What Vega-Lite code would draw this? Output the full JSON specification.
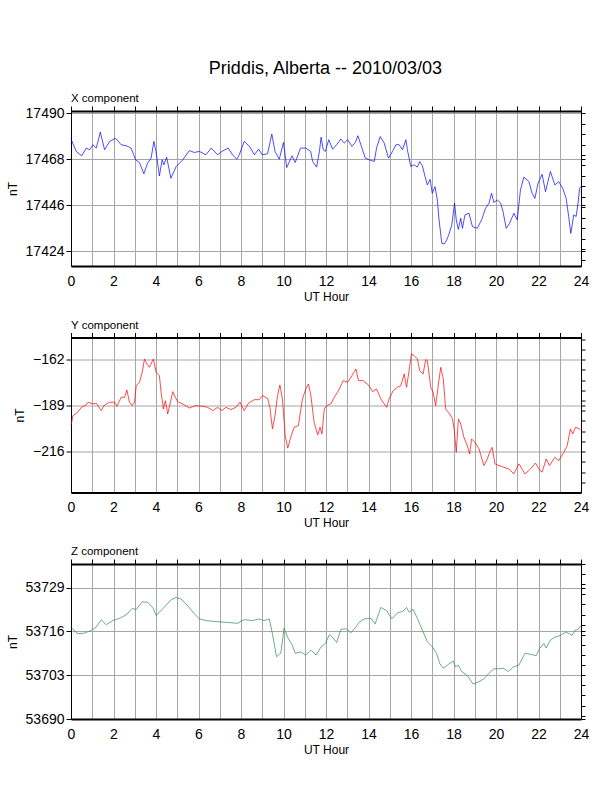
{
  "$schema": "https://vega.github.io/schema/vega-lite/v6.json",
  "autosize": {"type": "none"},
  "padding": {"left": 71, "top": 111, "right": 541, "bottom": 681},
  "title": {"text": "Priddis, Alberta -- 2010/03/03", "fontSize": 18, "fontWeight": "normal", "anchor": "middle", "baseline": "alphabetic", "offset": 0.5, "dx": 28, "color": "black"},
  "spacing": 71.5,
  "bounds": "flush",
  "datasets": {
    "xc": [
      {"h": 0, "v": 17477.6}, {"h": 0.25, "v": 17471.7}, {"h": 0.5, "v": 17469.6}, {"h": 0.72, "v": 17473.3}, {"h": 0.88, "v": 17472.5},
      {"h": 1.03, "v": 17474.9}, {"h": 1.19, "v": 17473.3}, {"h": 1.38, "v": 17480.9}, {"h": 1.58, "v": 17472.5}, {"h": 1.82, "v": 17476.5},
      {"h": 2.1, "v": 17478.0}, {"h": 2.36, "v": 17474.9}, {"h": 2.6, "v": 17474.4}, {"h": 2.83, "v": 17473.3}, {"h": 3.04, "v": 17467.7},
      {"h": 3.22, "v": 17466.4}, {"h": 3.43, "v": 17461.0}, {"h": 3.6, "v": 17466.1}, {"h": 3.77, "v": 17468.5}, {"h": 3.9, "v": 17476.5},
      {"h": 4.0, "v": 17471.7}, {"h": 4.16, "v": 17460.0}, {"h": 4.29, "v": 17467.7}, {"h": 4.37, "v": 17465.3}, {"h": 4.5, "v": 17469.0},
      {"h": 4.7, "v": 17458.9}, {"h": 4.95, "v": 17464.5}, {"h": 5.26, "v": 17467.7}, {"h": 5.57, "v": 17472.1}, {"h": 5.8, "v": 17471.2},
      {"h": 6.04, "v": 17471.7}, {"h": 6.35, "v": 17470.1}, {"h": 6.6, "v": 17473.3}, {"h": 6.9, "v": 17470.1}, {"h": 7.1, "v": 17471.7},
      {"h": 7.4, "v": 17473.3}, {"h": 7.6, "v": 17470.1}, {"h": 7.8, "v": 17468.0}, {"h": 7.92, "v": 17470.1}, {"h": 8.15, "v": 17476.5},
      {"h": 8.4, "v": 17474.1}, {"h": 8.63, "v": 17470.1}, {"h": 8.83, "v": 17472.8}, {"h": 9.0, "v": 17470.1}, {"h": 9.25, "v": 17470.6},
      {"h": 9.45, "v": 17480.0}, {"h": 9.6, "v": 17471.7}, {"h": 9.8, "v": 17468.0}, {"h": 10.0, "v": 17476.0}, {"h": 10.15, "v": 17464.0},
      {"h": 10.4, "v": 17469.6}, {"h": 10.55, "v": 17466.4}, {"h": 10.8, "v": 17473.3}, {"h": 11.05, "v": 17473.3}, {"h": 11.28, "v": 17471.7},
      {"h": 11.37, "v": 17466.9}, {"h": 11.56, "v": 17464.2}, {"h": 11.69, "v": 17471.7}, {"h": 11.77, "v": 17478.5}, {"h": 11.87, "v": 17472.5},
      {"h": 11.97, "v": 17471.7}, {"h": 12.13, "v": 17477.3}, {"h": 12.31, "v": 17472.8}, {"h": 12.5, "v": 17474.9}, {"h": 12.7, "v": 17477.6},
      {"h": 12.86, "v": 17475.7}, {"h": 13.02, "v": 17477.3}, {"h": 13.22, "v": 17474.1}, {"h": 13.38, "v": 17476.0}, {"h": 13.5, "v": 17479.2},
      {"h": 13.64, "v": 17474.9}, {"h": 13.85, "v": 17468.5}, {"h": 14.03, "v": 17467.7}, {"h": 14.27, "v": 17466.9}, {"h": 14.38, "v": 17473.3},
      {"h": 14.55, "v": 17478.8}, {"h": 14.74, "v": 17475.7}, {"h": 14.94, "v": 17468.5}, {"h": 15.13, "v": 17471.7}, {"h": 15.29, "v": 17474.9},
      {"h": 15.44, "v": 17474.9}, {"h": 15.6, "v": 17472.5}, {"h": 15.76, "v": 17477.3}, {"h": 15.83, "v": 17472.5}, {"h": 15.99, "v": 17464.5},
      {"h": 16.15, "v": 17465.3}, {"h": 16.3, "v": 17464.2}, {"h": 16.41, "v": 17466.9}, {"h": 16.54, "v": 17464.8}, {"h": 16.66, "v": 17459.7},
      {"h": 16.77, "v": 17455.7}, {"h": 16.9, "v": 17458.4}, {"h": 17.0, "v": 17451.7}, {"h": 17.13, "v": 17454.9}, {"h": 17.24, "v": 17448.5},
      {"h": 17.32, "v": 17439.0}, {"h": 17.45, "v": 17427.8}, {"h": 17.56, "v": 17427.5}, {"h": 17.68, "v": 17429.4}, {"h": 17.79, "v": 17432.3},
      {"h": 17.92, "v": 17436.6}, {"h": 18.05, "v": 17447.0}, {"h": 18.13, "v": 17439.0}, {"h": 18.23, "v": 17434.5}, {"h": 18.34, "v": 17439.8},
      {"h": 18.42, "v": 17435.0}, {"h": 18.54, "v": 17441.4}, {"h": 18.73, "v": 17442.2}, {"h": 18.89, "v": 17435.8}, {"h": 19.12, "v": 17435.0},
      {"h": 19.32, "v": 17439.0}, {"h": 19.51, "v": 17444.6}, {"h": 19.67, "v": 17447.0}, {"h": 19.79, "v": 17451.7}, {"h": 19.9, "v": 17447.3},
      {"h": 20.06, "v": 17448.5}, {"h": 20.22, "v": 17447.0}, {"h": 20.33, "v": 17443.0}, {"h": 20.48, "v": 17435.0}, {"h": 20.64, "v": 17437.4},
      {"h": 20.84, "v": 17442.2}, {"h": 21.0, "v": 17439.0}, {"h": 21.15, "v": 17453.3}, {"h": 21.31, "v": 17459.4}, {"h": 21.55, "v": 17457.3},
      {"h": 21.7, "v": 17451.7}, {"h": 21.83, "v": 17449.3}, {"h": 21.98, "v": 17456.5}, {"h": 22.17, "v": 17460.8}, {"h": 22.33, "v": 17452.5},
      {"h": 22.56, "v": 17462.1}, {"h": 22.77, "v": 17455.7}, {"h": 22.95, "v": 17457.3}, {"h": 23.14, "v": 17454.1}, {"h": 23.3, "v": 17449.3},
      {"h": 23.42, "v": 17440.6}, {"h": 23.52, "v": 17432.6}, {"h": 23.66, "v": 17441.4}, {"h": 23.77, "v": 17440.6}, {"h": 23.86, "v": 17447.0},
      {"h": 23.94, "v": 17454.1}, {"h": 24.0, "v": 17455.0}
    ],
    "yc": [
      {"h": 0, "v": -200.7}, {"h": 0.09, "v": -194.9}, {"h": 0.28, "v": -193.3}, {"h": 0.49, "v": -190.0}, {"h": 0.72, "v": -188.6},
      {"h": 0.8, "v": -187.0}, {"h": 1.03, "v": -188.0}, {"h": 1.19, "v": -187.6}, {"h": 1.42, "v": -191.9}, {"h": 1.58, "v": -188.6},
      {"h": 1.82, "v": -187.0}, {"h": 2.05, "v": -187.0}, {"h": 2.16, "v": -189.4}, {"h": 2.36, "v": -184.1}, {"h": 2.52, "v": -184.1},
      {"h": 2.63, "v": -179.8}, {"h": 2.75, "v": -187.0}, {"h": 2.88, "v": -189.0}, {"h": 2.99, "v": -187.0}, {"h": 3.07, "v": -177.3},
      {"h": 3.22, "v": -175.3}, {"h": 3.35, "v": -169.4}, {"h": 3.46, "v": -161.6}, {"h": 3.57, "v": -164.5}, {"h": 3.69, "v": -166.5},
      {"h": 3.88, "v": -161.6}, {"h": 4.0, "v": -169.4}, {"h": 4.16, "v": -171.4}, {"h": 4.24, "v": -181.2}, {"h": 4.35, "v": -191.0},
      {"h": 4.44, "v": -186.1}, {"h": 4.55, "v": -193.9}, {"h": 4.66, "v": -188.0}, {"h": 4.79, "v": -180.8}, {"h": 4.91, "v": -184.1},
      {"h": 5.02, "v": -186.7}, {"h": 5.26, "v": -188.0}, {"h": 5.57, "v": -190.4}, {"h": 5.88, "v": -189.0}, {"h": 6.2, "v": -189.4},
      {"h": 6.43, "v": -190.0}, {"h": 6.67, "v": -191.9}, {"h": 6.9, "v": -190.0}, {"h": 7.1, "v": -191.9}, {"h": 7.29, "v": -190.0},
      {"h": 7.53, "v": -191.3}, {"h": 7.76, "v": -190.0}, {"h": 7.95, "v": -187.0}, {"h": 8.15, "v": -191.9}, {"h": 8.36, "v": -187.4},
      {"h": 8.63, "v": -185.5}, {"h": 8.86, "v": -185.5}, {"h": 9.01, "v": -183.1}, {"h": 9.25, "v": -184.7}, {"h": 9.36, "v": -190.0},
      {"h": 9.48, "v": -202.7}, {"h": 9.6, "v": -194.9}, {"h": 9.72, "v": -183.1}, {"h": 9.83, "v": -176.9}, {"h": 9.95, "v": -185.1},
      {"h": 10.08, "v": -206.6}, {"h": 10.2, "v": -214.0}, {"h": 10.34, "v": -207.6}, {"h": 10.5, "v": -201.7}, {"h": 10.7, "v": -200.7},
      {"h": 10.89, "v": -185.1}, {"h": 11.05, "v": -179.2}, {"h": 11.17, "v": -176.3}, {"h": 11.28, "v": -182.2}, {"h": 11.44, "v": -198.8},
      {"h": 11.61, "v": -206.2}, {"h": 11.72, "v": -201.7}, {"h": 11.81, "v": -205.6}, {"h": 11.92, "v": -191.0}, {"h": 12.03, "v": -189.0},
      {"h": 12.23, "v": -188.0}, {"h": 12.39, "v": -184.1}, {"h": 12.63, "v": -179.2}, {"h": 12.81, "v": -174.3}, {"h": 13.02, "v": -175.3},
      {"h": 13.22, "v": -171.4}, {"h": 13.41, "v": -167.5}, {"h": 13.53, "v": -174.3}, {"h": 13.75, "v": -174.3}, {"h": 14.03, "v": -177.3},
      {"h": 14.19, "v": -180.8}, {"h": 14.38, "v": -179.2}, {"h": 14.58, "v": -185.1}, {"h": 14.74, "v": -188.0}, {"h": 14.85, "v": -190.0},
      {"h": 14.97, "v": -185.1}, {"h": 15.16, "v": -180.2}, {"h": 15.36, "v": -178.2}, {"h": 15.52, "v": -177.3}, {"h": 15.68, "v": -170.4},
      {"h": 15.79, "v": -178.2}, {"h": 15.91, "v": -168.5}, {"h": 16.02, "v": -158.7}, {"h": 16.15, "v": -159.6}, {"h": 16.3, "v": -161.6},
      {"h": 16.41, "v": -168.5}, {"h": 16.57, "v": -170.4}, {"h": 16.69, "v": -162.0}, {"h": 16.77, "v": -162.6}, {"h": 16.93, "v": -178.2},
      {"h": 17.04, "v": -181.2}, {"h": 17.16, "v": -189.0}, {"h": 17.29, "v": -176.3}, {"h": 17.4, "v": -166.5}, {"h": 17.52, "v": -173.3},
      {"h": 17.63, "v": -191.0}, {"h": 17.82, "v": -193.9}, {"h": 17.95, "v": -196.8}, {"h": 18.03, "v": -202.7}, {"h": 18.13, "v": -216.4},
      {"h": 18.23, "v": -196.8}, {"h": 18.34, "v": -199.8}, {"h": 18.49, "v": -207.6}, {"h": 18.65, "v": -212.5}, {"h": 18.76, "v": -217.4},
      {"h": 18.85, "v": -208.6}, {"h": 19.01, "v": -210.5}, {"h": 19.2, "v": -214.4}, {"h": 19.43, "v": -224.2}, {"h": 19.59, "v": -220.3},
      {"h": 19.7, "v": -216.4}, {"h": 19.82, "v": -213.5}, {"h": 19.95, "v": -223.2}, {"h": 20.14, "v": -224.2}, {"h": 20.37, "v": -225.2},
      {"h": 20.61, "v": -226.2}, {"h": 20.84, "v": -229.1}, {"h": 21.08, "v": -223.2}, {"h": 21.36, "v": -229.1}, {"h": 21.62, "v": -226.2},
      {"h": 21.86, "v": -222.7}, {"h": 22.02, "v": -226.2}, {"h": 22.17, "v": -228.1}, {"h": 22.36, "v": -220.3}, {"h": 22.52, "v": -224.2},
      {"h": 22.77, "v": -219.3}, {"h": 22.95, "v": -221.3}, {"h": 23.19, "v": -216.4}, {"h": 23.35, "v": -212.5}, {"h": 23.5, "v": -202.7},
      {"h": 23.61, "v": -205.6}, {"h": 23.74, "v": -201.7}, {"h": 23.86, "v": -202.3}, {"h": 23.97, "v": -203.1}
    ],
    "zc": [
      {"h": 0.03, "v": 53717.0}, {"h": 0.33, "v": 53715.3}, {"h": 0.64, "v": 53715.5}, {"h": 0.95, "v": 53716.3}, {"h": 1.19, "v": 53717.3},
      {"h": 1.42, "v": 53719.4}, {"h": 1.66, "v": 53718.0}, {"h": 1.97, "v": 53719.2}, {"h": 2.28, "v": 53719.9}, {"h": 2.6, "v": 53720.9},
      {"h": 2.88, "v": 53722.8}, {"h": 3.07, "v": 53722.5}, {"h": 3.35, "v": 53724.8}, {"h": 3.61, "v": 53724.6}, {"h": 3.85, "v": 53723.1},
      {"h": 4.01, "v": 53720.7}, {"h": 4.24, "v": 53722.2}, {"h": 4.48, "v": 53723.8}, {"h": 4.71, "v": 53725.4}, {"h": 4.95, "v": 53726.1},
      {"h": 5.18, "v": 53725.6}, {"h": 5.49, "v": 53723.6}, {"h": 5.81, "v": 53721.2}, {"h": 6.04, "v": 53719.7}, {"h": 6.35, "v": 53719.2},
      {"h": 6.82, "v": 53718.9}, {"h": 7.29, "v": 53718.7}, {"h": 7.84, "v": 53718.4}, {"h": 8.15, "v": 53719.5}, {"h": 8.54, "v": 53719.2},
      {"h": 8.86, "v": 53719.7}, {"h": 9.09, "v": 53719.2}, {"h": 9.33, "v": 53719.7}, {"h": 9.48, "v": 53715.3}, {"h": 9.67, "v": 53708.5},
      {"h": 9.87, "v": 53709.5}, {"h": 10.03, "v": 53717.0}, {"h": 10.19, "v": 53714.3}, {"h": 10.4, "v": 53712.1}, {"h": 10.55, "v": 53709.5},
      {"h": 10.81, "v": 53709.9}, {"h": 11.05, "v": 53709.0}, {"h": 11.3, "v": 53710.4}, {"h": 11.53, "v": 53709.0}, {"h": 11.77, "v": 53711.4},
      {"h": 11.97, "v": 53712.4}, {"h": 12.16, "v": 53715.0}, {"h": 12.31, "v": 53714.3}, {"h": 12.5, "v": 53712.7}, {"h": 12.7, "v": 53716.6},
      {"h": 12.94, "v": 53716.8}, {"h": 13.17, "v": 53715.6}, {"h": 13.41, "v": 53717.3}, {"h": 13.56, "v": 53718.7}, {"h": 13.8, "v": 53719.7},
      {"h": 14.11, "v": 53719.9}, {"h": 14.31, "v": 53718.2}, {"h": 14.58, "v": 53723.1}, {"h": 14.85, "v": 53722.2}, {"h": 15.1, "v": 53719.7},
      {"h": 15.36, "v": 53721.5}, {"h": 15.6, "v": 53721.9}, {"h": 15.79, "v": 53723.1}, {"h": 15.91, "v": 53721.7}, {"h": 16.1, "v": 53722.5},
      {"h": 16.3, "v": 53719.9}, {"h": 16.54, "v": 53716.3}, {"h": 16.77, "v": 53712.9}, {"h": 17.0, "v": 53711.4}, {"h": 17.2, "v": 53709.5},
      {"h": 17.35, "v": 53706.5}, {"h": 17.51, "v": 53705.1}, {"h": 17.76, "v": 53706.2}, {"h": 17.98, "v": 53707.2}, {"h": 18.1, "v": 53705.5},
      {"h": 18.23, "v": 53706.0}, {"h": 18.38, "v": 53704.1}, {"h": 18.65, "v": 53702.9}, {"h": 18.92, "v": 53700.4}, {"h": 19.2, "v": 53701.1},
      {"h": 19.43, "v": 53701.9}, {"h": 19.67, "v": 53703.6}, {"h": 19.9, "v": 53704.9}, {"h": 20.14, "v": 53704.9}, {"h": 20.33, "v": 53705.1},
      {"h": 20.58, "v": 53704.1}, {"h": 20.84, "v": 53705.5}, {"h": 21.08, "v": 53706.0}, {"h": 21.36, "v": 53709.5}, {"h": 21.62, "v": 53709.2},
      {"h": 21.89, "v": 53708.8}, {"h": 22.05, "v": 53710.9}, {"h": 22.25, "v": 53712.4}, {"h": 22.36, "v": 53711.1}, {"h": 22.56, "v": 53713.4},
      {"h": 22.77, "v": 53714.3}, {"h": 23.03, "v": 53714.8}, {"h": 23.27, "v": 53715.8}, {"h": 23.46, "v": 53715.3}, {"h": 23.58, "v": 53714.8},
      {"h": 23.71, "v": 53716.3}, {"h": 23.86, "v": 53716.6}, {"h": 23.97, "v": 53717.6}
    ]
  },
  "vconcat": [
    {
      "width": 510,
      "height": 155,
      "title": {"text": "X component", "anchor": "start", "frame": "group", "fontSize": 11.5, "fontWeight": "normal", "baseline": "alphabetic", "offset": -8, "color": "black"},
      "data": {"name": "xc"},
      "layer": [
        {
          "mark": {"type": "line", "strokeOpacity": 0},
          "encoding": {
            "x": {"field": "h", "type": "quantitative", "scale": {"domain": [0, 24], "nice": false},
              "axis": {"orient": "top", "values": [0,1,2,3,4,5,6,7,8,9,10,11,12,13,14,15,16,17,18,19,20,21,22,23,24], "labels": false, "title": null, "grid": true, "gridColor": "#a6a6a6", "gridWidth": 1, "tickSize": 5, "domainWidth": 2}},
            "y": {"field": "v", "type": "quantitative", "scale": {"domain": [17417, 17491], "nice": false, "zero": false},
              "axis": {"orient": "right", "values": [17420,17424,17425,17430,17435,17440,17445,17446,17450,17455,17460,17465,17468,17470,17475,17480,17485,17490], "labels": false, "title": null, "grid": false, "tickSize": 4}}
          }
        },
        {
          "mark": {"type": "line", "color": "#0000ff", "strokeWidth": 0.7},
          "encoding": {
            "x": {"field": "h", "type": "quantitative",
              "axis": {"orient": "bottom", "values": [0,2,4,6,8,10,12,14,16,18,20,22,24], "ticks": false, "tickSize": 0, "labelPadding": 8, "grid": false, "title": "UT Hour", "titlePadding": 3, "domainWidth": 2}},
            "y": {"field": "v", "type": "quantitative",
              "axis": {"orient": "left", "values": [17424,17446,17468,17490], "format": "d", "grid": true, "gridColor": "#a6a6a6", "gridWidth": 1,
                "tickSize": 5, "labelPadding": 2, "title": "nT", "titlePadding": 6}}
          }
        }
      ],
      "resolve": {"axis": {"x": "independent", "y": "independent"}}
    },
    {
      "width": 510,
      "height": 155,
      "title": {"text": "Y component", "anchor": "start", "frame": "group", "fontSize": 11.5, "fontWeight": "normal", "baseline": "alphabetic", "offset": -8, "color": "black"},
      "data": {"name": "yc"},
      "layer": [
        {
          "mark": {"type": "line", "strokeOpacity": 0},
          "encoding": {
            "x": {"field": "h", "type": "quantitative", "scale": {"domain": [0, 24], "nice": false},
              "axis": {"orient": "top", "values": [0,1,2,3,4,5,6,7,8,9,10,11,12,13,14,15,16,17,18,19,20,21,22,23,24], "labels": false, "title": null, "grid": true, "gridColor": "#a6a6a6", "gridWidth": 1, "tickSize": 5, "domainWidth": 2}},
            "y": {"field": "v", "type": "quantitative", "scale": {"domain": [-240, -149], "nice": false, "zero": false},
              "axis": {"orient": "right", "values": [-234,-228,-222,-216,-210,-204,-198,-192,-189,-186,-180,-174,-168,-162,-156,-150], "labels": false, "title": null, "grid": false, "tickSize": 4}}
          }
        },
        {
          "mark": {"type": "line", "color": "#ff0000", "strokeWidth": 0.7},
          "encoding": {
            "x": {"field": "h", "type": "quantitative",
              "axis": {"orient": "bottom", "values": [0,2,4,6,8,10,12,14,16,18,20,22,24], "ticks": false, "tickSize": 0, "labelPadding": 8, "grid": false, "title": "UT Hour", "titlePadding": 3, "domainWidth": 2}},
            "y": {"field": "v", "type": "quantitative",
              "axis": {"orient": "left", "values": [-216,-189,-162], "format": "d", "grid": true, "gridColor": "#a6a6a6", "gridWidth": 1,
                "tickSize": 5, "labelPadding": 2, "title": "nT", "titlePadding": 6}}
          }
        }
      ],
      "resolve": {"axis": {"x": "independent", "y": "independent"}}
    },
    {
      "width": 510,
      "height": 155,
      "title": {"text": "Z component", "anchor": "start", "frame": "group", "fontSize": 11.5, "fontWeight": "normal", "baseline": "alphabetic", "offset": -8, "color": "black"},
      "data": {"name": "zc"},
      "layer": [
        {
          "mark": {"type": "line", "strokeOpacity": 0},
          "encoding": {
            "x": {"field": "h", "type": "quantitative", "scale": {"domain": [0, 24], "nice": false},
              "axis": {"orient": "top", "values": [0,1,2,3,4,5,6,7,8,9,10,11,12,13,14,15,16,17,18,19,20,21,22,23,24], "labels": false, "title": null, "grid": true, "gridColor": "#a6a6a6", "gridWidth": 1, "tickSize": 5, "domainWidth": 2}},
            "y": {"field": "v", "type": "quantitative", "scale": {"domain": [53690, 53736], "nice": false, "zero": false},
              "axis": {"orient": "right", "values": [53690,53691,53694,53697,53700,53703,53706,53709,53712,53715,53716,53718,53721,53724,53727,53729,53730,53733,53736], "labels": false, "title": null, "grid": false, "tickSize": 4}}
          }
        },
        {
          "mark": {"type": "line", "color": "#2e8b57", "strokeWidth": 0.7},
          "encoding": {
            "x": {"field": "h", "type": "quantitative",
              "axis": {"orient": "bottom", "values": [0,2,4,6,8,10,12,14,16,18,20,22,24], "ticks": false, "tickSize": 0, "labelPadding": 8, "grid": false, "title": "UT Hour", "titlePadding": 3, "domainWidth": 2}},
            "y": {"field": "v", "type": "quantitative",
              "axis": {"orient": "left", "values": [53690,53703,53716,53729], "format": "d", "grid": true, "gridColor": "#a6a6a6", "gridWidth": 1,
                "tickSize": 5, "labelPadding": 2, "title": "nT", "titlePadding": 6}}
          }
        }
      ],
      "resolve": {"axis": {"x": "independent", "y": "independent"}}
    }
  ],
  "config": {
    "font": "Liberation Sans",
    "view": {"stroke": "black", "strokeWidth": 1},
    "axis": {
      "labelFontSize": 14,
      "labelColor": "black",
      "titleFontSize": 12,
      "titleFontWeight": "normal",
      "titleColor": "black",
      "domainColor": "black",
      "tickColor": "black",
      "labelFlush": false,
      "labelOverlap": false
    }
  }
}
